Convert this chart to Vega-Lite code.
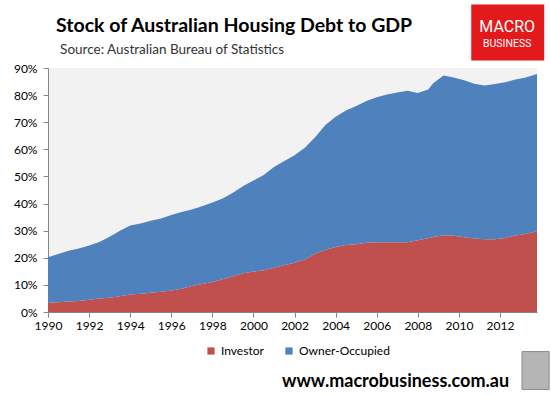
{
  "$schema": "https://vega.github.io/schema/vega-lite/v6.json",
  "width": 489,
  "height": 244,
  "autosize": {"type": "none"},
  "padding": {"left": 48, "top": 68, "right": 14, "bottom": 83},
  "background": "white",
  "config": {
    "view": {"fill": "#f2f2f2", "stroke": null},
    "font": "Lato",
    "axisX": {
      "title": null, "grid": false, "labelOverlap": false, "labelFlush": false,
      "domainColor": "#868686", "tickColor": "#868686", "tickSize": 5,
      "labelFont": "Lato", "labelFontSize": 12, "labelColor": "#000000", "labelPadding": 3
    },
    "axisY": {
      "title": null, "grid": false, "labelOverlap": false, "labelFlush": false,
      "domainColor": "#868686", "tickColor": "#868686", "tickSize": 5,
      "labelFont": "Lato", "labelFontSize": 12, "labelColor": "#000000", "labelPadding": 6
    }
  },
  "layer": [
    {
      "data": {"values": [
        {"year": 1990.0, "series": "Investor", "value": 3.4}, {"year": 1990.0, "series": "Owner-Occupied", "value": 16.8},
        {"year": 1990.5, "series": "Investor", "value": 3.6}, {"year": 1990.5, "series": "Owner-Occupied", "value": 17.8},
        {"year": 1991.0, "series": "Investor", "value": 3.9}, {"year": 1991.0, "series": "Owner-Occupied", "value": 18.7},
        {"year": 1991.5, "series": "Investor", "value": 4.1}, {"year": 1991.5, "series": "Owner-Occupied", "value": 19.3},
        {"year": 1992.0, "series": "Investor", "value": 4.5}, {"year": 1992.0, "series": "Owner-Occupied", "value": 20.0},
        {"year": 1992.5, "series": "Investor", "value": 5.0}, {"year": 1992.5, "series": "Owner-Occupied", "value": 20.8},
        {"year": 1993.0, "series": "Investor", "value": 5.3}, {"year": 1993.0, "series": "Owner-Occupied", "value": 22.5},
        {"year": 1993.5, "series": "Investor", "value": 5.8}, {"year": 1993.5, "series": "Owner-Occupied", "value": 24.2},
        {"year": 1994.0, "series": "Investor", "value": 6.5}, {"year": 1994.0, "series": "Owner-Occupied", "value": 25.4},
        {"year": 1994.5, "series": "Investor", "value": 6.7}, {"year": 1994.5, "series": "Owner-Occupied", "value": 25.9},
        {"year": 1995.0, "series": "Investor", "value": 7.1}, {"year": 1995.0, "series": "Owner-Occupied", "value": 26.6},
        {"year": 1995.5, "series": "Investor", "value": 7.5}, {"year": 1995.5, "series": "Owner-Occupied", "value": 27.0},
        {"year": 1996.0, "series": "Investor", "value": 7.9}, {"year": 1996.0, "series": "Owner-Occupied", "value": 27.9},
        {"year": 1996.5, "series": "Investor", "value": 8.6}, {"year": 1996.5, "series": "Owner-Occupied", "value": 28.3},
        {"year": 1997.0, "series": "Investor", "value": 9.6}, {"year": 1997.0, "series": "Owner-Occupied", "value": 28.2},
        {"year": 1997.5, "series": "Investor", "value": 10.3}, {"year": 1997.5, "series": "Owner-Occupied", "value": 28.7},
        {"year": 1998.0, "series": "Investor", "value": 11.1}, {"year": 1998.0, "series": "Owner-Occupied", "value": 29.3},
        {"year": 1998.5, "series": "Investor", "value": 12.1}, {"year": 1998.5, "series": "Owner-Occupied", "value": 29.8},
        {"year": 1999.0, "series": "Investor", "value": 13.2}, {"year": 1999.0, "series": "Owner-Occupied", "value": 30.8},
        {"year": 1999.5, "series": "Investor", "value": 14.3}, {"year": 1999.5, "series": "Owner-Occupied", "value": 32.2},
        {"year": 2000.0, "series": "Investor", "value": 14.9}, {"year": 2000.0, "series": "Owner-Occupied", "value": 33.6},
        {"year": 2000.5, "series": "Investor", "value": 15.4}, {"year": 2000.5, "series": "Owner-Occupied", "value": 35.1},
        {"year": 2001.0, "series": "Investor", "value": 16.3}, {"year": 2001.0, "series": "Owner-Occupied", "value": 37.2},
        {"year": 2001.5, "series": "Investor", "value": 17.2}, {"year": 2001.5, "series": "Owner-Occupied", "value": 38.5},
        {"year": 2002.0, "series": "Investor", "value": 18.2}, {"year": 2002.0, "series": "Owner-Occupied", "value": 39.6},
        {"year": 2002.5, "series": "Investor", "value": 19.4}, {"year": 2002.5, "series": "Owner-Occupied", "value": 41.2},
        {"year": 2003.0, "series": "Investor", "value": 21.5}, {"year": 2003.0, "series": "Owner-Occupied", "value": 43.0},
        {"year": 2003.5, "series": "Investor", "value": 23.0}, {"year": 2003.5, "series": "Owner-Occupied", "value": 46.0},
        {"year": 2004.0, "series": "Investor", "value": 24.0}, {"year": 2004.0, "series": "Owner-Occupied", "value": 48.0},
        {"year": 2004.5, "series": "Investor", "value": 24.7}, {"year": 2004.5, "series": "Owner-Occupied", "value": 49.6},
        {"year": 2005.0, "series": "Investor", "value": 25.0}, {"year": 2005.0, "series": "Owner-Occupied", "value": 51.0},
        {"year": 2005.5, "series": "Investor", "value": 25.5}, {"year": 2005.5, "series": "Owner-Occupied", "value": 52.3},
        {"year": 2006.0, "series": "Investor", "value": 25.7}, {"year": 2006.0, "series": "Owner-Occupied", "value": 53.5},
        {"year": 2006.5, "series": "Investor", "value": 25.7}, {"year": 2006.5, "series": "Owner-Occupied", "value": 54.5},
        {"year": 2007.0, "series": "Investor", "value": 25.7}, {"year": 2007.0, "series": "Owner-Occupied", "value": 55.3},
        {"year": 2007.5, "series": "Investor", "value": 25.7}, {"year": 2007.5, "series": "Owner-Occupied", "value": 55.9},
        {"year": 2008.0, "series": "Investor", "value": 26.5}, {"year": 2008.0, "series": "Owner-Occupied", "value": 54.3},
        {"year": 2008.5, "series": "Investor", "value": 27.2}, {"year": 2008.5, "series": "Owner-Occupied", "value": 54.9},
        {"year": 2008.75, "series": "Investor", "value": 27.7}, {"year": 2008.75, "series": "Owner-Occupied", "value": 56.7},
        {"year": 2009.25, "series": "Investor", "value": 28.3}, {"year": 2009.25, "series": "Owner-Occupied", "value": 58.9},
        {"year": 2009.75, "series": "Investor", "value": 28.1}, {"year": 2009.75, "series": "Owner-Occupied", "value": 58.4},
        {"year": 2010.25, "series": "Investor", "value": 27.6}, {"year": 2010.25, "series": "Owner-Occupied", "value": 57.9},
        {"year": 2010.75, "series": "Investor", "value": 27.1}, {"year": 2010.75, "series": "Owner-Occupied", "value": 57.1},
        {"year": 2011.25, "series": "Investor", "value": 26.8}, {"year": 2011.25, "series": "Owner-Occupied", "value": 56.7},
        {"year": 2011.75, "series": "Investor", "value": 26.8}, {"year": 2011.75, "series": "Owner-Occupied", "value": 57.3},
        {"year": 2012.25, "series": "Investor", "value": 27.3}, {"year": 2012.25, "series": "Owner-Occupied", "value": 57.4},
        {"year": 2012.75, "series": "Investor", "value": 28.2}, {"year": 2012.75, "series": "Owner-Occupied", "value": 57.6},
        {"year": 2013.25, "series": "Investor", "value": 28.8}, {"year": 2013.25, "series": "Owner-Occupied", "value": 57.7},
        {"year": 2013.8, "series": "Investor", "value": 29.8}, {"year": 2013.8, "series": "Owner-Occupied", "value": 58.0}
      ]},
      "mark": {"type": "area", "interpolate": "linear"},
      "encoding": {
        "x": {
          "field": "year", "type": "quantitative",
          "scale": {"domain": [1990, 2013.8], "nice": false, "zero": false},
          "axis": {"values": [1990, 1992, 1994, 1996, 1998, 2000, 2002, 2004, 2006, 2008, 2010, 2012], "format": "d"}
        },
        "y": {
          "field": "value", "type": "quantitative", "stack": "zero",
          "scale": {"domain": [0, 90], "nice": false},
          "axis": {"values": [0, 10, 20, 30, 40, 50, 60, 70, 80, 90], "labelExpr": "datum.value + '%'"}
        },
        "color": {
          "field": "series", "type": "nominal",
          "scale": {"domain": ["Investor", "Owner-Occupied"], "range": ["#C0504D", "#4F81BD"]},
          "legend": {
            "title": null, "orient": "none", "legendX": 157, "legendY": 277, "direction": "horizontal",
            "symbolType": "square", "symbolSize": 52, "symbolStrokeWidth": 0, "labelOffset": 4,
            "labelFont": "Lato", "labelFontSize": 12, "labelColor": "#000000",
            "columnPadding": 19
          }
        },
        "order": {"field": "series", "sort": "ascending"}
      }
    },
    {
      "data": {"values": [
        {"x": 1990.39, "y": 103.1, "label": "Stock of Australian Housing Debt to GDP"}
      ]},
      "mark": {"type": "text", "font": "Lato", "fontWeight": "bold", "fontSize": 19.5, "color": "#000000", "align": "left", "baseline": "alphabetic"},
      "encoding": {
        "x": {"field": "x", "type": "quantitative", "axis": {"values": [1990, 1992, 1994, 1996, 1998, 2000, 2002, 2004, 2006, 2008, 2010, 2012], "format": "d"}},
        "y": {"field": "y", "type": "quantitative", "axis": {"values": [0, 10, 20, 30, 40, 50, 60, 70, 80, 90], "labelExpr": "datum.value + '%'"}},
        "text": {"field": "label"}
      }
    },
    {
      "data": {"values": [
        {"x": 1990.59, "y": 95.2, "label": "Source: Australian Bureau of Statistics"}
      ]},
      "mark": {"type": "text", "font": "Lato", "fontSize": 13.5, "color": "#333333", "align": "left", "baseline": "alphabetic"},
      "encoding": {
        "x": {"field": "x", "type": "quantitative", "axis": {"values": [1990, 1992, 1994, 1996, 1998, 2000, 2002, 2004, 2006, 2008, 2010, 2012], "format": "d"}},
        "y": {"field": "y", "type": "quantitative", "axis": {"values": [0, 10, 20, 30, 40, 50, 60, 70, 80, 90], "labelExpr": "datum.value + '%'"}},
        "text": {"field": "label"}
      }
    },
    {
      "data": {"values": [{"x1": 2010.6, "x2": 2014.15, "y1": 92.8, "y2": 113.4}]},
      "mark": {"type": "rect", "color": "#e3191c"},
      "encoding": {
        "x": {"field": "x1", "type": "quantitative", "axis": {"values": [1990, 1992, 1994, 1996, 1998, 2000, 2002, 2004, 2006, 2008, 2010, 2012], "format": "d"}},
        "x2": {"field": "x2"},
        "y": {"field": "y1", "type": "quantitative", "axis": {"values": [0, 10, 20, 30, 40, 50, 60, 70, 80, 90], "labelExpr": "datum.value + '%'"}},
        "y2": {"field": "y2"}
      }
    },
    {
      "data": {"values": [{"x": 2012.35, "y": 103.1, "label": "MACRO", "size": 16}, {"x": 2012.35, "y": 97.6, "label": "BUSINESS", "size": 10.5}]},
      "mark": {"type": "text", "font": "Roboto", "color": "white", "align": "center", "baseline": "alphabetic"},
      "encoding": {
        "x": {"field": "x", "type": "quantitative", "axis": {"values": [1990, 1992, 1994, 1996, 1998, 2000, 2002, 2004, 2006, 2008, 2010, 2012], "format": "d"}},
        "y": {"field": "y", "type": "quantitative", "axis": {"values": [0, 10, 20, 30, 40, 50, 60, 70, 80, 90], "labelExpr": "datum.value + '%'"}},
        "text": {"field": "label"},
        "size": {"field": "size", "type": "quantitative", "scale": null, "legend": null}
      }
    },
    {
      "data": {"values": [{"x": 2012.44, "y": -27.8, "label": "www.macrobusiness.com.au"}]},
      "mark": {"type": "text", "font": "Lato", "fontWeight": "bold", "fontSize": 18, "color": "#000000", "align": "right", "baseline": "alphabetic"},
      "encoding": {
        "x": {"field": "x", "type": "quantitative", "axis": {"values": [1990, 1992, 1994, 1996, 1998, 2000, 2002, 2004, 2006, 2008, 2010, 2012], "format": "d"}},
        "y": {"field": "y", "type": "quantitative", "axis": {"values": [0, 10, 20, 30, 40, 50, 60, 70, 80, 90], "labelExpr": "datum.value + '%'"}},
        "text": {"field": "label"}
      }
    },
    {
      "data": {"values": [{"x1": 2013.07, "x2": 2014.39, "y1": -14.6, "y2": -28.6}]},
      "mark": {"type": "rect", "color": "#b5b5b5", "stroke": "#8a8a8a", "strokeWidth": 1},
      "encoding": {
        "x": {"field": "x1", "type": "quantitative", "axis": {"values": [1990, 1992, 1994, 1996, 1998, 2000, 2002, 2004, 2006, 2008, 2010, 2012], "format": "d"}},
        "x2": {"field": "x2"},
        "y": {"field": "y1", "type": "quantitative", "axis": {"values": [0, 10, 20, 30, 40, 50, 60, 70, 80, 90], "labelExpr": "datum.value + '%'"}},
        "y2": {"field": "y2"}
      }
    }
  ]
}
